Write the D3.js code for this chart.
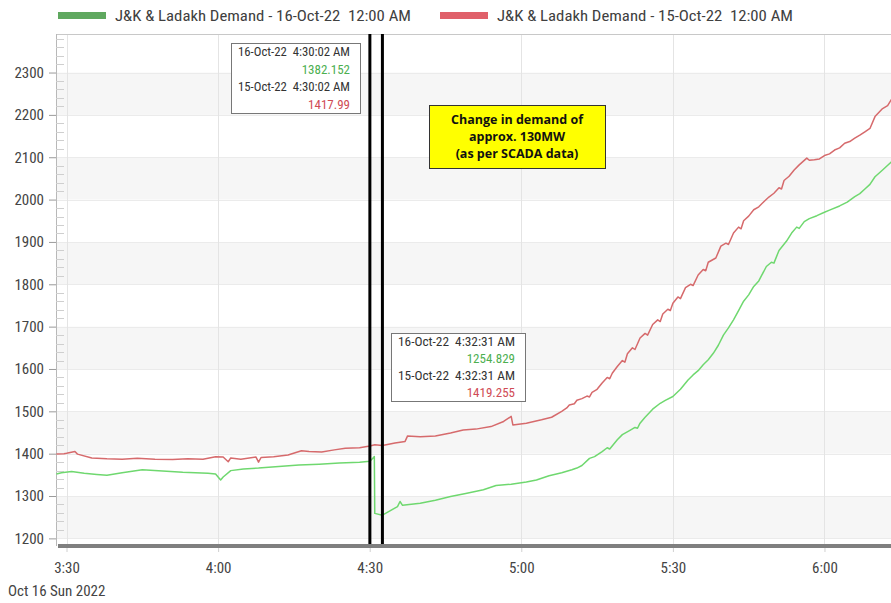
<!DOCTYPE html>
<html>
<head>
<meta charset="utf-8">
<script src="https://cdn.jsdelivr.net/npm/d3@7"></script>
<style>
  html, body { margin: 0; padding: 0; background: #fff; }
  svg { display: block; }
  .narrow { font-family: "Liberation Sans Narrow", "Arial Narrow", "Roboto Condensed", "Liberation Sans", sans-serif; }
</style>
</head>
<body>
<svg id="chart" width="891" height="603"></svg>
<script>
// Series: J&K & Ladakh demand (MW), time of day on 16-Oct-22 / 15-Oct-22
const demand16Times = ["03:28:00","03:29:00","03:31:00","03:33:30","03:36:00","03:38:00","03:41:00","03:45:00","03:49:00","03:53:00","03:58:00","03:59:30","04:00:30","04:01:00","04:02:30","04:05:00","04:08:00","04:12:00","04:16:00","04:20:00","04:24:00","04:28:00","04:30:02","04:30:40","04:30:55","04:31:00","04:32:31","04:34:00","04:35:30","04:36:00","04:36:30","04:40:00","04:43:00","04:46:00","04:49:00","04:52:30","04:55:00","04:58:00","05:01:00","05:03:00","05:05:30","05:08:00",
  "05:10:00","05:11:00","05:12:00","05:13:30","05:14:30","05:16:00","05:17:00","05:17:30","05:19:00","05:20:00","05:21:30","05:22:30","05:23:00","05:23:30","05:24:30","05:26:00","05:27:30","05:28:30","05:30:00","05:31:30","05:33:00","05:34:00","05:35:00","05:36:00","05:37:00","05:38:00","05:39:00","05:40:00","05:41:00","05:42:00","05:43:00","05:44:00","05:45:00","05:46:00","05:47:00","05:48:30","05:49:30","05:50:00","05:51:00","05:52:30","05:53:30","05:54:30","05:55:00","05:56:00","05:57:00","05:58:30","06:00:00","06:01:00","06:03:00","06:04:30","06:06:00","06:07:00","06:08:00","06:09:00","06:10:00","06:11:30","06:13:20"];
const demand16Values = [1352,1355,1358,1354,1351,1349,1355,1362,1359,1356,1354,1352,1338,1345,1360,1364,1366,1370,1373,1375,1378,1380,1382.152,1390,1393,1259,1254.829,1265,1275,1287,1278,1283,1290,1299,1306,1315,1325,1328,1333,1338,1348,1355,
  1362,1366,1372,1389,1393,1405,1414,1411,1433,1445,1455,1462,1460,1472,1486,1505,1519,1526,1535,1552,1574,1586,1596,1610,1622,1637,1656,1680,1697,1716,1738,1760,1775,1795,1808,1842,1852,1850,1880,1902,1921,1935,1932,1948,1955,1962,1970,1975,1985,1994,2007,2014,2025,2036,2054,2070,2090];

const demand15Times = ["03:28:00","03:29:30","03:30:00","03:31:40","03:32:10","03:35:00","03:38:00","03:41:00","03:44:00","03:47:30","03:51:00","03:54:00","03:57:00","03:59:30","04:01:00","04:02:00","04:02:30","04:04:30","04:07:30","04:08:00","04:08:30","04:11:00","04:13:50","04:16:30","04:18:00","04:20:30","04:23:00","04:25:10","04:28:00","04:30:02","04:31:00","04:32:31","04:35:00","04:37:00","04:37:30","04:40:00","04:43:00","04:46:00","04:48:30","04:51:00","04:54:00","04:56:30","04:58:00","04:58:20","05:01:00","05:04:00","05:06:00",
  "05:08:00","05:09:00","05:09:30","05:10:30","05:11:00","05:12:00","05:13:00","05:13:30","05:14:00","05:15:00","05:16:00","05:17:00","05:17:30","05:18:00","05:19:00","05:20:00","05:20:30","05:21:00","05:22:00","05:22:30","05:23:30","05:24:30","05:25:00","05:26:00","05:27:00","05:27:30","05:28:00","05:29:00","05:29:30","05:30:00","05:31:00","05:31:30","05:32:30","05:33:30","05:34:00","05:35:00","05:36:00","05:36:30","05:37:00","05:38:30","05:39:30","05:40:30","05:41:00","05:42:00","05:43:00","05:43:30","05:44:00","05:45:00","05:46:00","05:47:00","05:48:00","05:49:00","05:50:00","05:51:00","05:51:30","05:52:00","05:53:00","05:54:00","05:55:00","05:56:30","05:57:00","05:58:00","05:59:00","06:00:00","06:01:00","06:02:00","06:03:00","06:04:00","06:05:00","06:06:00","06:07:00","06:08:00","06:09:00","06:10:00","06:11:30","06:12:30","06:13:20"];
const demand15Values = [1399,1400,1401,1405,1399,1390,1388,1387,1389,1387,1386,1388,1387,1393,1392,1381,1390,1387,1392,1380,1391,1393,1397,1407,1405,1404,1409,1413,1414,1417.99,1421,1419.255,1425,1429,1442,1440,1442,1449,1456,1458,1464,1476,1488,1468,1472,1480,1486,
  1500,1508,1515,1518,1526,1530,1536,1534,1545,1552,1567,1580,1577,1590,1606,1620,1616,1636,1650,1646,1673,1684,1680,1705,1716,1712,1730,1741,1738,1755,1770,1766,1792,1800,1797,1822,1835,1832,1852,1862,1890,1897,1894,1921,1935,1931,1950,1961,1976,1983,1995,2006,2015,2028,2025,2045,2055,2070,2082,2098,2093,2094,2096,2104,2108,2117,2122,2133,2137,2145,2152,2160,2168,2196,2215,2222,2238];

const seriesNames = ["J&K & Ladakh Demand - 16-Oct-22  12:00 AM", "J&K & Ladakh Demand - 15-Oct-22  12:00 AM"];
const seriesColors = ["#6fd86f", "#d66a6c"];
const legendSwatchColors = ["#5fa85f", "#e0606a"];

const yTicks = [1200,1300,1400,1500,1600,1700,1800,1900,2000,2100,2200,2300];
const xTickTimes = ["03:30","04:00","04:30","05:00","05:30","06:00"];
const xTickLabels = ["3:30","4:00","4:30","5:00","5:30","6:00"];
const dateLabel = "Oct 16 Sun 2022";

// Cursor readouts
const cursorTimes = ["04:30:02", "04:32:31"];
const cursorLabels = ["4:30:02 AM", "4:32:31 AM"];
const cursor16Labels = ["1382.152", "1254.829"];
const cursor15Labels = ["1417.99", "1419.255"];
const noteLines = ["Change in demand of", "approx. 130MW", "(as per SCADA data)"];

const parseT = s => {
  const p = s.split(":").map(Number);
  return new Date(2022, 9, 16, p[0], p[1], p[2] || 0);
};

const svg = d3.select("#chart");
const plot = { left: 56, right: 891, top: 34, bottom: 546 };

const x = d3.scaleTime()
  .domain([new Date(2022, 9, 16, 3, 27, 55), new Date(2022, 9, 16, 6, 13, 10)])
  .range([plot.left, plot.right]);
const y = d3.scaleLinear().domain([1182, 2391]).range([plot.bottom, plot.top]);

// alternating background bands
const bandStarts = [1200, 1400, 1600, 1800, 2000, 2200];
svg.append("g").selectAll("rect").data(bandStarts).join("rect")
  .attr("x", plot.left).attr("width", plot.right - plot.left)
  .attr("y", d => y(d + 100)).attr("height", d => y(d) - y(d + 100))
  .attr("fill", "#f6f6f6");

// horizontal grid lines
svg.append("g").selectAll("line").data(yTicks).join("line")
  .attr("x1", plot.left).attr("x2", plot.right)
  .attr("y1", d => Math.round(y(d)) + 0.5).attr("y2", d => Math.round(y(d)) + 0.5)
  .attr("stroke", "#ebebeb");

// vertical grid lines every half hour
svg.append("g").selectAll("line").data(xTickTimes).join("line")
  .attr("x1", d => Math.round(x(parseT(d))) + 0.5).attr("x2", d => Math.round(x(parseT(d))) + 0.5)
  .attr("y1", plot.top).attr("y2", plot.bottom)
  .attr("stroke", "#e4e4e4");

// top border and y axis line
svg.append("line").attr("x1", plot.left).attr("x2", plot.right)
  .attr("y1", plot.top + 0.5).attr("y2", plot.top + 0.5).attr("stroke", "#c8c8c8");
svg.append("line").attr("x1", plot.left + 0.5).attr("x2", plot.left + 0.5)
  .attr("y1", plot.top).attr("y2", plot.bottom).attr("stroke", "#b8b8b8");

// y axis: major ticks with labels, minor ticks inside
const yAxis = svg.append("g").attr("transform", `translate(${plot.left},0)`)
  .call(d3.axisLeft(y).tickValues(yTicks).tickSize(7).tickPadding(5).tickFormat(d3.format("d")));
yAxis.select(".domain").remove();
yAxis.selectAll(".tick line").attr("stroke", "#9a9a9a");
yAxis.selectAll("text").attr("class", "narrow").attr("font-size", 15).attr("fill", "#444")
  .attr("font-family", null);

const minor = d3.range(1200, 2400, 20).filter(v => v % 100 !== 0);
svg.append("g").selectAll("line").data(minor).join("line")
  .attr("x1", plot.left).attr("x2", plot.left + 8)
  .attr("y1", d => Math.round(y(d)) + 0.5).attr("y2", d => Math.round(y(d)) + 0.5)
  .attr("stroke", "#cfcfcf");

// demand lines
const line = d3.line().x(d => x(d[0])).y(d => y(d[1]));
svg.append("clipPath").attr("id", "clip").append("rect")
  .attr("x", plot.left).attr("y", plot.top).attr("width", plot.right - plot.left).attr("height", plot.bottom - plot.top);

const s15 = demand15Times.map((t, i) => [parseT(t), demand15Values[i]]);
const s16 = demand16Times.map((t, i) => [parseT(t), demand16Values[i]]);
const g = svg.append("g").attr("clip-path", "url(#clip)");
g.append("path").datum(s15).attr("d", line).attr("fill", "none")
  .attr("stroke", seriesColors[1]).attr("stroke-width", 1.5).attr("stroke-linejoin", "round");
g.append("path").datum(s16).attr("d", line).attr("fill", "none")
  .attr("stroke", seriesColors[0]).attr("stroke-width", 1.5).attr("stroke-linejoin", "round");

// cursor lines
svg.append("g").selectAll("line").data(cursorTimes).join("line")
  .attr("x1", d => x(parseT(d))).attr("x2", d => x(parseT(d)))
  .attr("y1", plot.top).attr("y2", plot.bottom)
  .attr("stroke", "#000").attr("stroke-width", 3);

// x axis bar
const xAxis = svg.append("g").attr("transform", `translate(0,${plot.bottom})`)
  .call(d3.axisBottom(x).tickValues(xTickTimes.map(parseT)).tickSize(6).tickPadding(10)
    .tickFormat((d, i) => xTickLabels[i]));
xAxis.select(".domain").remove();
xAxis.selectAll(".tick line").attr("stroke", "#d0d0d0");
xAxis.selectAll("text").attr("class", "narrow").attr("font-size", 15).attr("fill", "#444")
  .attr("font-family", null);
svg.append("rect").attr("x", plot.left + 2).attr("y", plot.bottom - 2)
  .attr("width", plot.right - plot.left).attr("height", 4).attr("fill", "#7f7f7f");

svg.append("text").attr("class", "narrow").attr("x", 8).attr("y", 596)
  .attr("font-size", 15).attr("fill", "#444").text(dateLabel);

// legend
const legendX = [58, 440];
const legend = svg.append("g");
seriesNames.forEach((name, i) => {
  legend.append("rect").attr("x", legendX[i]).attr("y", 12).attr("width", 48).attr("height", 7)
    .attr("fill", legendSwatchColors[i]);
  legend.append("text").attr("class", "narrow").attr("x", legendX[i] + 57).attr("y", 21)
    .attr("font-size", 15).attr("fill", "#404040")
    .attr("textLength", 296).attr("lengthAdjust", "spacingAndGlyphs")
    .style("white-space", "pre").text(name);
});

// cursor readout boxes
const boxes = [
  { x: 231, y: 43, w: 129, h: 70 },
  { x: 391, y: 333, w: 134, h: 68 }
];
boxes.forEach((b, i) => {
  const bg = svg.append("g");
  bg.append("rect").attr("x", b.x + 0.5).attr("y", b.y + 0.5).attr("width", b.w).attr("height", b.h)
    .attr("fill", "#fff").attr("stroke", "#777");
  const lh = b.h / 4;
  const rows = [
    { t: "16-Oct-22  " + cursorLabels[i], c: "#333", right: false },
    { t: cursor16Labels[i], c: "#4caf50", right: true },
    { t: "15-Oct-22  " + cursorLabels[i], c: "#333", right: false },
    { t: cursor15Labels[i], c: "#d04b55", right: true }
  ];
  rows.forEach((r, k) => {
    const tx = bg.append("text").attr("class", "narrow")
      .attr("y", b.y + lh * k + lh / 2 + 4.5)
      .attr("font-size", 13).attr("fill", r.c).style("white-space", "pre").text(r.t);
    if (r.right) tx.attr("x", b.x + b.w - 10).attr("text-anchor", "end");
    else tx.attr("x", b.x + 7).attr("textLength", b.w - 17).attr("lengthAdjust", "spacingAndGlyphs");
  });
});

// annotation note
const note = svg.append("g");
note.append("rect").attr("x", 429.5).attr("y", 105.5).attr("width", 176).attr("height", 63)
  .attr("fill", "#ffff00").attr("stroke", "#333");
noteLines.forEach((t, k) => {
  note.append("text").attr("x", 517).attr("y", 124 + k * 17).attr("text-anchor", "middle")
    .attr("font-family", "'Open Sans', 'Noto Sans', sans-serif").attr("font-weight", "bold")
    .attr("font-size", 12.5).attr("fill", "#111").text(t);
});
</script>
</body>
</html>
